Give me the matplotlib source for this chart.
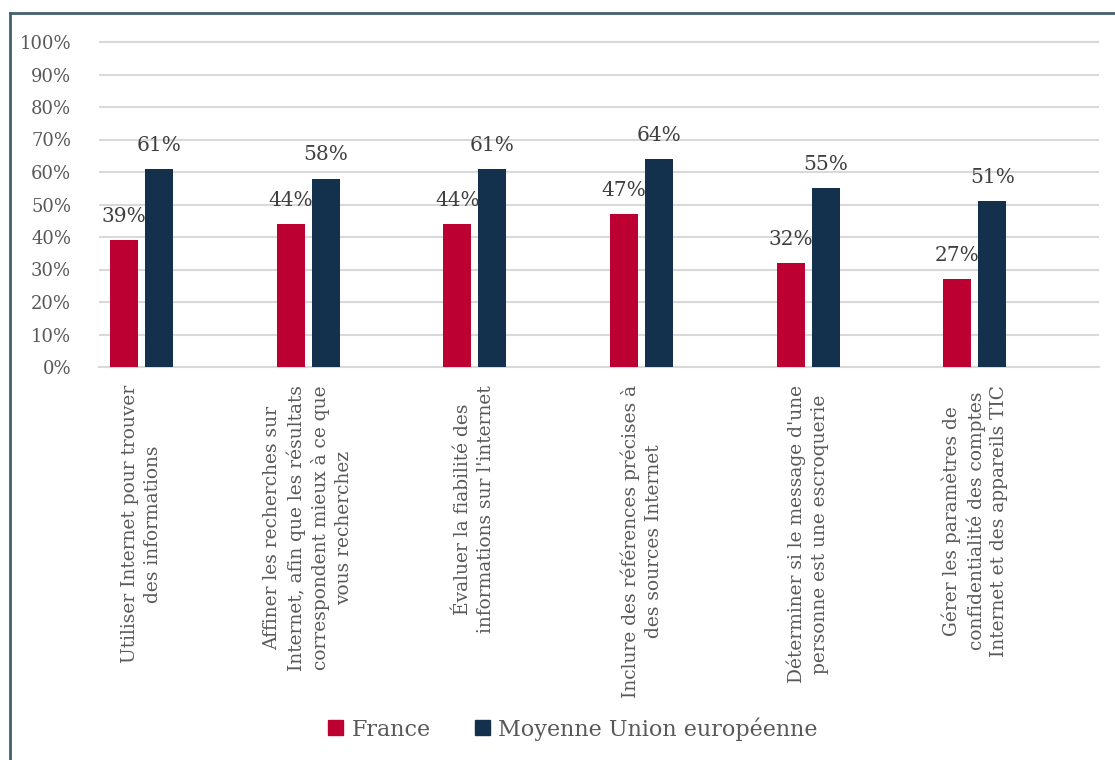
import numpy as np
import matplotlib
matplotlib.use("Agg")
import matplotlib.pyplot as plt
from matplotlib.lines import Line2D
from matplotlib.patches import Patch

# Compétences informationnelles : France vs moyenne UE
categories = [
    "Utiliser Internet pour trouver\ndes informations",
    "Affiner les recherches sur\nInternet, afin que les résultats\ncorrespondent mieux à ce que\nvous recherchez",
    "Évaluer la fiabilité des\ninformations sur l'internet",
    "Inclure des références précises à\ndes sources Internet",
    "Déterminer si le message d'une\npersonne est une escroquerie",
    "Gérer les paramètres de\nconfidentialité des comptes\nInternet et des appareils TIC",
]
france = [39, 44, 44, 47, 32, 27]
ue = [61, 58, 61, 64, 55, 51]
series_names = ["France", "Moyenne Union européenne"]

c_fr = "#bc0031"
c_ue = "#13304c"
grey = "#595959"
serif = ["DejaVu Serif"]

ymax = 100.6
px_per_pct = 3.25
fig = plt.figure(figsize=(11.15, 7.6), dpi=100)
ax = fig.add_axes([99 / 1115, 1 - 367 / 760, 1000 / 1115, ymax * px_per_pct / 760])

x = np.arange(len(categories))
w = 0.168
x_fr = x + 0.150
x_ue = x + 0.360

ax.bar(x_fr, france, width=w, color=c_fr, zorder=3)
ax.bar(x_ue, ue, width=w, color=c_ue, zorder=3)

for xs, vals in ((x_fr, france), (x_ue, ue)):
    for xi, v in zip(xs, vals):
        ax.annotate(f"{v}%", (xi, v), xytext=(0, 13), textcoords="offset points",
                    ha="center", va="baseline", fontsize=14.5, color="#404040",
                    family=serif, zorder=4)

ax.set_xlim(0, len(categories))
ax.set_ylim(0, ymax)
ax.set_yticks(np.arange(0, 101, 10))
ax.set_yticklabels([f"{t}%" for t in range(0, 101, 10)], family=serif,
                   fontsize=13, color=grey)
ax.yaxis.grid(True, color="#d9d9d9", linewidth=1.5, zorder=0)
ax.tick_params(axis="y", length=0, pad=20)

ax.set_xticks(x + 0.255)
ax.set_xticklabels(categories, rotation=90, ha="center", va="top",
                   multialignment="center", family=serif, fontsize=13.4,
                   color=grey, linespacing=1.35)
ax.tick_params(axis="x", length=0, pad=13)

for s in ("top", "right", "left"):
    ax.spines[s].set_visible(False)
ax.spines["bottom"].set_color("#d9d9d9")
ax.spines["bottom"].set_linewidth(1.5)

handles = [Patch(color=c_fr), Patch(color=c_ue)]
fig.legend(handles, series_names, loc="center", bbox_to_anchor=(0.514, 0.041),
           ncol=2, frameon=False, prop={"family": serif, "size": 16},
           labelcolor=grey, handlelength=0.65, handleheight=0.65,
           handletextpad=0.4, columnspacing=2.0)

# cadre extérieur
frame_c = "#44606e"
fig.add_artist(Line2D([10 / 1115, 10 / 1115], [1 - 13 / 760, 0], color=frame_c,
                      linewidth=2, transform=fig.transFigure))
fig.add_artist(Line2D([10 / 1115, 1], [1 - 13 / 760, 1 - 13 / 760], color=frame_c,
                      linewidth=2, transform=fig.transFigure))

fig.savefig("out.png", dpi=100)
